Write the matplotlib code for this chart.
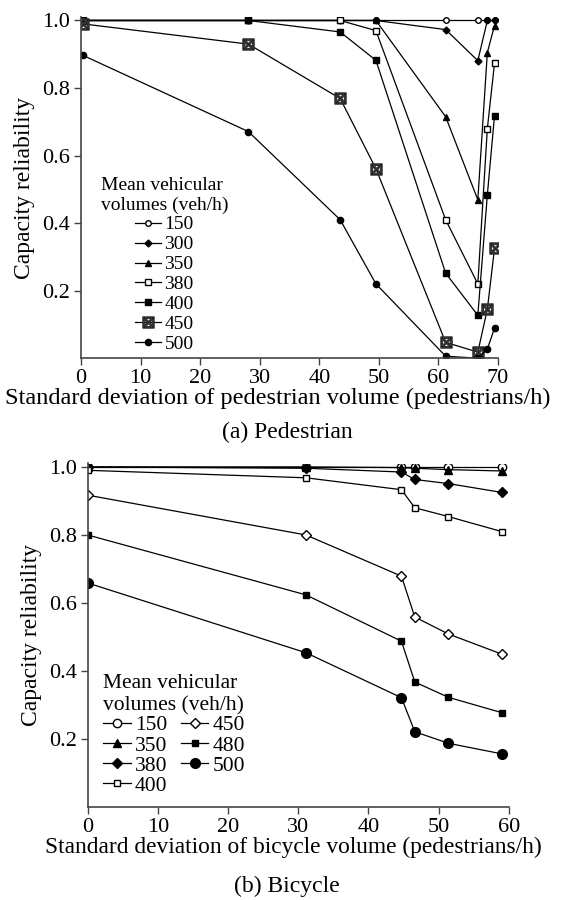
import matplotlib
matplotlib.use("Agg")
import matplotlib.pyplot as plt

plt.rcParams['font.family'] = ['Liberation Serif', 'DejaVu Serif']
plt.rcParams['mathtext.fontset'] = 'dejavuserif'

# (a) Pedestrian
ped_x = [0.3, 28.1, 43.5, 49.5, 61.2, 66.6, 68.2, 69.4]
ped_150 = [1.0, 1.0, 1.0, 1.0, 1.0, 1.0, 1.0, 1.0]
ped_300 = [1.0, 1.0, 1.0, 1.0, 0.973, 0.881, 1.0, 1.0]
ped_350 = [1.0, 1.0, 1.0, 1.0, 0.715, 0.469, 0.905, 0.985]
ped_380 = [1.0, 1.0, 1.0, 0.970, 0.410, 0.220, 0.680, 0.873]
ped_400 = [1.0, 1.0, 0.966, 0.882, 0.252, 0.127, 0.484, 0.718]
ped_450 = [0.99, 0.930, 0.769, 0.561, 0.047, 0.018, 0.145, 0.325]
ped_500 = [0.897, 0.671, 0.410, 0.220, 0.006, 0.0, 0.027, 0.089]

# (b) Bicycle
bic_x = [0.0, 31.1, 44.7, 46.6, 51.4, 59.0]
bic_150 = [1.0, 1.0, 1.0, 1.0, 1.0, 1.0]
bic_350 = [1.0, 1.0, 0.998, 0.996, 0.992, 0.988]
bic_380 = [1.0, 0.996, 0.985, 0.963, 0.951, 0.925]
bic_400 = [0.99, 0.968, 0.933, 0.880, 0.854, 0.810]
bic_450 = [0.917, 0.800, 0.679, 0.559, 0.509, 0.450]
bic_480 = [0.800, 0.624, 0.488, 0.368, 0.323, 0.278]
bic_500 = [0.659, 0.454, 0.322, 0.222, 0.188, 0.157]

fig = plt.figure(figsize=(5.66, 9), dpi=100)
ax1 = fig.add_axes([0.143, 0.602, 0.737, 0.379])
ax2 = fig.add_axes([0.155, 0.103, 0.744, 0.382])

lw = 0.9
ax1.plot(ped_x, ped_150, color='black', lw=lw, marker='o', ms=4, mfc='white', label='150')
ax1.plot(ped_x, ped_300, color='black', lw=lw, marker='D', ms=3.5, label='300')
ax1.plot(ped_x, ped_350, color='black', lw=lw, marker='^', ms=5, label='350')
ax1.plot(ped_x, ped_380, color='black', lw=lw, marker='s', ms=4, mfc='white', label='380')
ax1.plot(ped_x, ped_400, color='black', lw=lw, marker='s', ms=4.5, label='400')
ax1.plot(ped_x, ped_450, color='black', lw=lw, marker=r'$\boxtimes$', ms=8, mec='#333333', label='450')
ax1.plot(ped_x, ped_500, color='black', lw=lw, marker='o', ms=4.5, label='500')

ax2.plot(bic_x, bic_150, color='black', lw=lw, marker='o', ms=6, mfc='white', label='150')
ax2.plot(bic_x, bic_350, color='black', lw=lw, marker='^', ms=6, label='350')
ax2.plot(bic_x, bic_380, color='black', lw=lw, marker='D', ms=5.5, label='380')
ax2.plot(bic_x, bic_400, color='black', lw=lw, marker='s', ms=4.5, mfc='white', label='400')
ax2.plot(bic_x, bic_450, color='black', lw=lw, marker='D', ms=5.5, mfc='white', label='450')
ax2.plot(bic_x, bic_480, color='black', lw=lw, marker='s', ms=5, label='480')
ax2.plot(bic_x, bic_500, color='black', lw=lw, marker='o', ms=7, label='500')

for ax in (ax1, ax2):
    ax.set_ylim(0, 1.01)
    ax.set_yticks([0.2, 0.4, 0.6, 0.8, 1.0])
    ax.set_yticklabels(['0.2', '0.4', '0.6', '0.8', '1.0'])
    ax.spines['top'].set_visible(False)
    ax.spines['right'].set_visible(False)
    for s in ('left', 'bottom'):
        ax.spines[s].set_color('#444444')
        ax.spines[s].set_linewidth(1.2)
    ax.tick_params(labelsize=16, length=5, width=1, color='#444444', pad=3)
    ax.set_ylabel('Capacity reliability', fontsize=17, labelpad=5)

ax1.set_xlim(0, 70)
ax1.set_xticks(range(0, 71, 10))
ax1.set_xlabel('Standard deviation of pedestrian volume (pedestrians/h)', fontsize=17.5)
ax1.xaxis.set_label_coords(0.472, -0.088)
ax2.set_xlim(0, 60)
ax2.set_xticks(range(0, 61, 10))
ax2.set_xlabel('Standard deviation of bicycle volume (pedestrians/h)', fontsize=16.8)
ax2.xaxis.set_label_coords(0.488, -0.087)

leg1 = ax1.legend(title='Mean vehicular\nvolumes (veh/h)', loc='lower left', bbox_to_anchor=(0.015, -0.025),
                  frameon=False, fontsize=14, title_fontsize=14, handlelength=1.3, handletextpad=0.2,
                  labelspacing=0.12, borderpad=0.2)
leg1._legend_box.align = 'center'
leg2 = ax2.legend(title='Mean vehicular\nvolumes (veh/h)', loc='lower left', bbox_to_anchor=(0.0, -0.01),
                  frameon=False, fontsize=15.5, title_fontsize=15.5, handlelength=1.3, handletextpad=0.2,
                  labelspacing=0.0, borderpad=0.2, ncol=2, columnspacing=0.6)
leg2._legend_box.align = 'left'

fig.text(0.507, 0.52, '(a) Pedestrian', ha='center', va='center', fontsize=17)
fig.text(0.507, 0.015, '(b) Bicycle', ha='center', va='center', fontsize=17)

fig.savefig('out.png', dpi=100)
